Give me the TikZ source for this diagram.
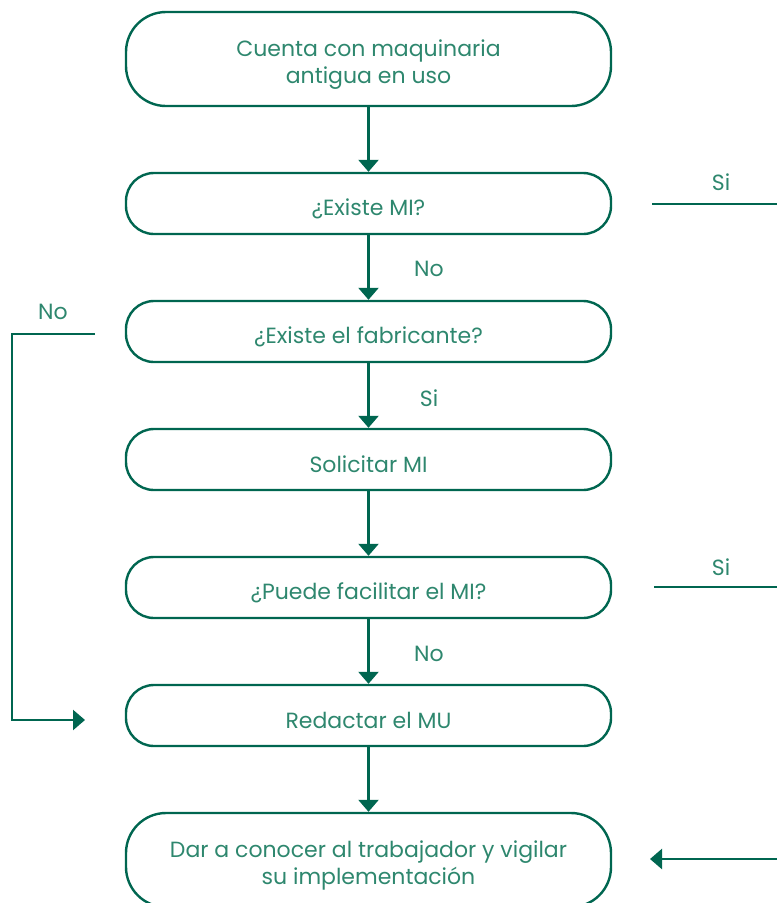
\documentclass[tikz,border=0pt]{standalone}
\usepackage{fontspec}
\setmainfont{Poppins}
\usetikzlibrary{arrows.meta}
\definecolor{linegreen}{RGB}{0,102,80}
\definecolor{textgreen}{RGB}{46,135,110}
\tikzset{
    stepbox/.style={draw=linegreen, line width=2.4pt, rounded corners=28pt,
        minimum width=485pt, minimum height=61pt, text=textgreen, align=center,
        font=\fontsize{22}{27}\selectfont, inner sep=0pt,
        execute at begin node={\rule{0pt}{27pt}}},
    tallbox/.style={stepbox, minimum height=94pt, text height=55pt,
        rounded corners=40pt},
    flow/.style={draw=linegreen, line width=2.4pt,
        -{Triangle[width=20pt,length=12pt]}},
    plain/.style={draw=linegreen, line width=2.4pt},
    answer/.style={text=textgreen, font=\fontsize{22}{26}\selectfont}
}
\begin{document}
\begin{tikzpicture}[x=1pt,y=-1pt]
        \useasboundingbox (0,0) rectangle (777,903);

        \node[tallbox] (uso) at (368.5,59) {Cuenta con maquinaria\\antigua en uso};
        \node[stepbox] (mi) at (368.5,203.5) {¿Existe MI?};
        \node[stepbox] (fab) at (368.5,331.5) {¿Existe el fabricante?};
        \node[stepbox] (pide) at (368.5,459.5) {Solicitar MI};
        \node[stepbox] (puede) at (368.5,587.5) {¿Puede facilitar el MI?};
        \node[stepbox] (mu) at (368.5,715.5) {Redactar el MU};
        \node[tallbox] (dar) at (368.5,860) {Dar a conocer al trabajador y vigilar\\su implementación};

        \draw[flow] (uso) -- (mi);
        \draw[flow] (mi) -- (fab);
        \draw[flow] (fab) -- (pide);
        \draw[flow] (pide) -- (puede);
        \draw[flow] (puede) -- (mu);
        \draw[flow] (mu) -- (dar);

        \node[answer] (no1) at (429,269) {No};
        \node[answer] (si1) at (429,398) {Si};
        \node[answer] (no2) at (429,654) {No};

        % ramas de la derecha
        \node[answer] (si2) at (721,182) {Si};
        \coordinate (siA) at (652,204);
        \coordinate (siB) at (777,204);
        \draw[plain] (siA) -- (siB);

        \node[answer] (si3) at (721,567) {Si};
        \coordinate (siC) at (654,587);
        \coordinate (siD) at (777,587);
        \draw[plain] (siC) -- (siD);

        \coordinate (finA) at (777,859);
        \coordinate (finB) at (650,859);
        \draw[flow] (finA) -- (finB);

        % rama de la izquierda
        \node[answer] (no3) at (53,312) {No};
        \coordinate (noA) at (95,334);
        \coordinate (noB) at (12,334);
        \coordinate (noC) at (12,720);
        \coordinate (noD) at (85,720);
        \draw[flow] (noA) -- (noB) -- (noC) -- (noD);
    \end{tikzpicture}
\end{document}
